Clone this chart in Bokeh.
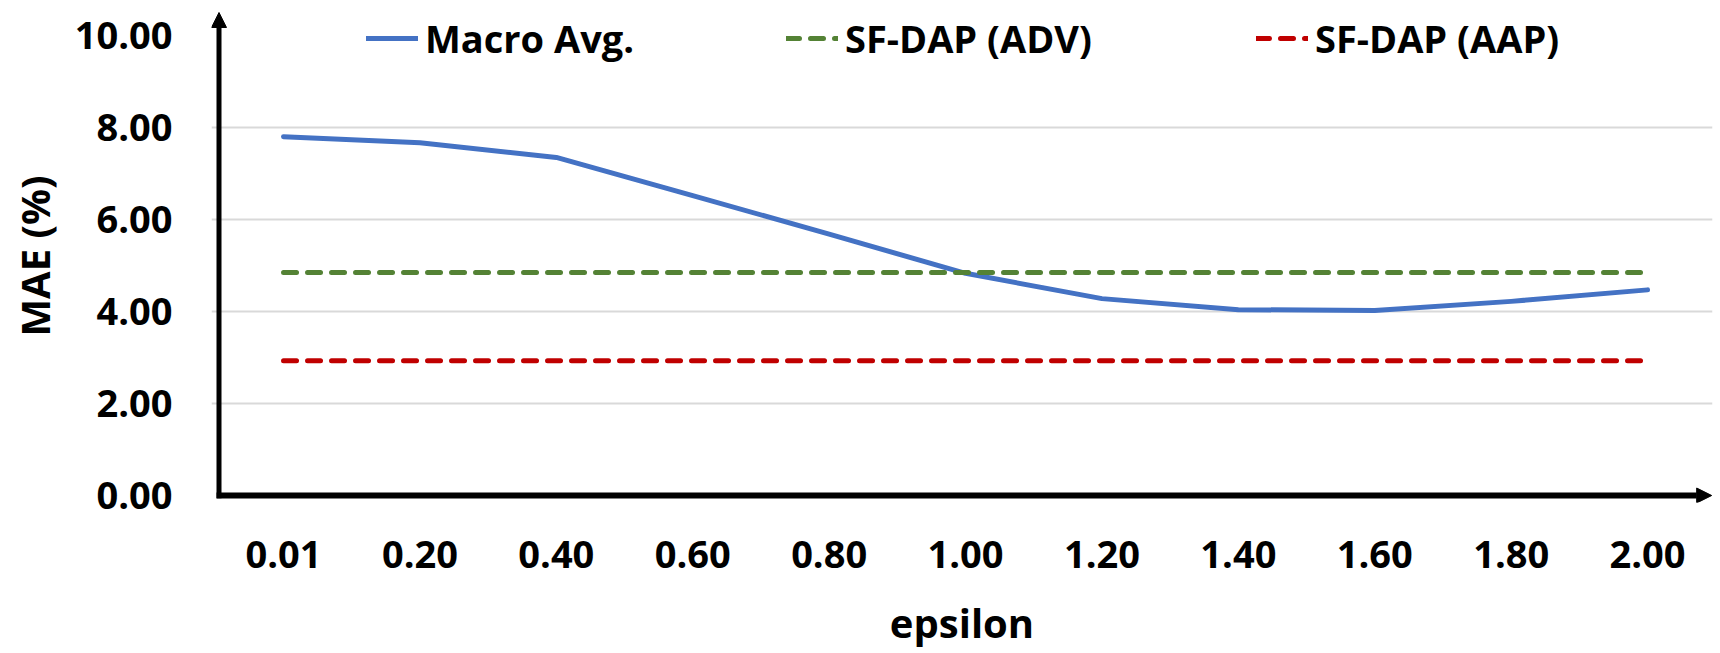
from bokeh.plotting import figure
from bokeh.models import Range1d, FixedTicker, Arrow, NormalHead, Legend, LegendItem
from bokeh.embed import file_html
from bokeh.resources import INLINE

# ---- data ----
eps_labels = ["0.01", "0.20", "0.40", "0.60", "0.80", "1.00", "1.20", "1.40", "1.60", "1.80", "2.00"]
macro_avg = [7.80, 7.67, 7.35, 6.52, 5.68, 4.83, 4.28, 4.04, 4.02, 4.22, 4.47]
sf_dap_adv = [4.85] * 11
sf_dap_aap = [2.93] * 11
y_ticks = [0, 2, 4, 6, 8, 10]
y_tick_labels = ["0.00", "2.00", "4.00", "6.00", "8.00", "10.00"]

xs = list(range(len(eps_labels)))

FONT = "Open Sans"
BLUE = "#4472C4"
GREEN = "#548235"
RED = "#C00000"

X0, X1 = -0.528, 10.476
Y0, Y1 = -0.152, 10.565
AX_X = -0.473

p = figure(width=1720, height=653, x_range=Range1d(X0, X1), y_range=Range1d(Y0, Y1),
           output_backend="svg", toolbar_location=None,
           min_border_left=211, min_border_right=8, min_border_top=9, min_border_bottom=151)
p.outline_line_color = None
p.background_fill_color = "white"
p.border_fill_color = "white"

# grid
p.xgrid.grid_line_color = None
p.ygrid.ticker = FixedTicker(ticks=[2, 4, 6, 8])
p.ygrid.grid_line_color = "#d9d9d9"
p.ygrid.grid_line_width = 2

# axes
p.xaxis.ticker = FixedTicker(ticks=xs)
p.xaxis.major_label_overrides = {i: lab for i, lab in enumerate(eps_labels)}
p.yaxis.ticker = FixedTicker(ticks=y_ticks)
p.yaxis.major_label_overrides = {t: lab for t, lab in zip(y_ticks, y_tick_labels)}
for ax in (p.xaxis, p.yaxis):
    ax.axis_line_color = None
    ax.major_tick_line_color = None
    ax.minor_tick_line_color = None
    ax.major_tick_in = 0
    ax.major_tick_out = 0
    ax.minor_tick_in = 0
    ax.minor_tick_out = 0
    ax.major_label_text_font = FONT
    ax.major_label_text_font_style = "bold"
    ax.major_label_text_font_size = "38px"
    ax.major_label_text_color = "black"
    ax.axis_label_text_font = FONT
    ax.axis_label_text_font_style = "bold"
    ax.axis_label_text_font_size = "40px"
    ax.axis_label_text_color = "black"
p.xaxis.axis_label = "epsilon"
p.yaxis.axis_label = "MAE (%)"
p.xaxis.major_label_standoff = 38
p.xaxis.axis_label_standoff = 24
p.yaxis.major_label_standoff = 39
p.yaxis.axis_label_standoff = 10

# series
r_macro = p.line(xs, macro_avg, line_color=BLUE, line_width=5, line_join="round", line_cap="round")
r_adv = p.line(xs, sf_dap_adv, line_color=GREEN, line_width=5, line_dash="13 11", line_cap="round")
r_aap = p.line(xs, sf_dap_aap, line_color=RED, line_width=5, line_dash="13 11", line_cap="round")

# axis arrows
p.add_layout(Arrow(end=NormalHead(size=15, fill_color="black", line_color="black", line_width=1),
                   x_start=AX_X, y_start=-0.06, x_end=AX_X, y_end=10.5,
                   line_color="black", line_width=5))
p.add_layout(Arrow(end=NormalHead(size=15, fill_color="black", line_color="black", line_width=1),
                   x_start=AX_X - 0.018, y_start=0, x_end=10.47, y_end=0,
                   line_color="black", line_width=6))

# legends (one per entry, positioned like the reference)
for label, rend, xloc in [("Macro Avg.", r_macro, 155), ("SF-DAP (ADV)", r_adv, 575), ("SF-DAP (AAP)", r_aap, 1045)]:
    lg = Legend(items=[LegendItem(label=label, renderers=[rend])], location=(xloc, 438),
                orientation="horizontal", padding=0, margin=0, border_line_color=None,
                background_fill_alpha=0, glyph_width=52, glyph_height=30, label_height=30,
                label_standoff=7, label_text_font=FONT, label_text_font_style="bold",
                label_text_font_size="38px", label_text_color="black")
    p.add_layout(lg, "center")

open("out.html", "w").write(file_html(p, INLINE))
